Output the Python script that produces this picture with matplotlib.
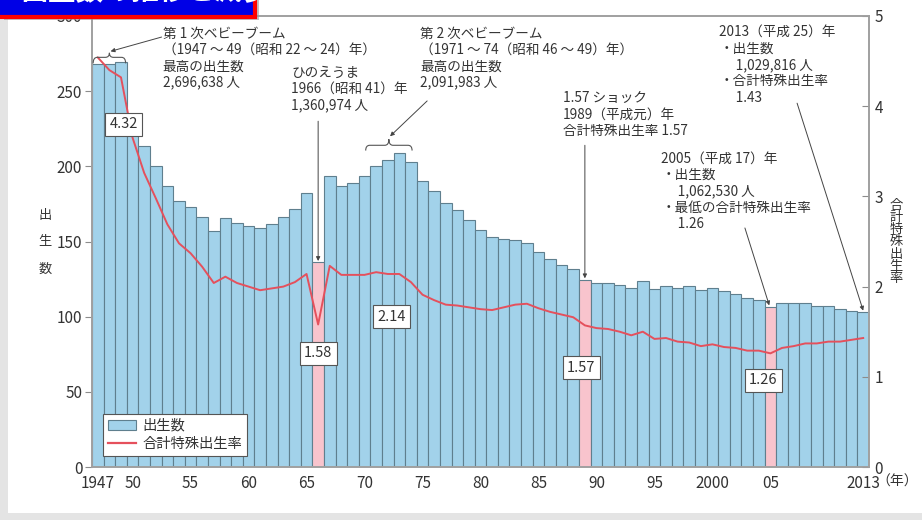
import matplotlib
matplotlib.use("Agg")
import matplotlib.pyplot as plt
from matplotlib.patches import Rectangle, PathPatch
from matplotlib.path import Path

plt.rcParams['font.family'] = ['Noto Sans CJK JP', 'DejaVu Sans']

# 出生数（万人）と合計特殊出生率, 1947-2013
years = list(range(1947, 2014))
births = [267.9, 268.2, 269.7, 233.8, 213.8, 200.5, 186.8, 177.0, 173.1, 166.5,
          156.7, 165.3, 162.6, 160.6, 158.9, 161.9, 166.0, 171.7, 182.4, 136.1,
          193.5, 187.2, 188.9, 193.4, 200.1, 203.9, 209.2, 203.0, 190.1, 183.3,
          175.5, 170.9, 164.3, 157.7, 152.9, 151.5, 150.9, 149.0, 143.2, 138.3,
          134.7, 131.4, 124.7, 122.2, 122.3, 120.9, 118.8, 123.8, 118.7, 120.7,
          119.2, 120.3, 117.8, 119.1, 117.1, 115.4, 112.4, 111.1, 106.3, 109.3,
          109.0, 109.1, 107.0, 107.1, 105.1, 103.7, 103.0]
tfr = [4.54, 4.40, 4.32, 3.65, 3.26, 2.98, 2.69, 2.48, 2.37, 2.22,
       2.04, 2.11, 2.04, 2.00, 1.96, 1.98, 2.00, 2.05, 2.14, 1.58,
       2.23, 2.13, 2.13, 2.13, 2.16, 2.14, 2.14, 2.05, 1.91, 1.85,
       1.80, 1.79, 1.77, 1.75, 1.74, 1.77, 1.80, 1.81, 1.76, 1.72,
       1.69, 1.66, 1.57, 1.54, 1.53, 1.50, 1.46, 1.50, 1.42, 1.43,
       1.39, 1.38, 1.34, 1.36, 1.33, 1.32, 1.29, 1.29, 1.26, 1.32,
       1.34, 1.37, 1.37, 1.39, 1.39, 1.41, 1.43]
highlight_years = [1966, 1989, 2005]

xtick_pos = [1947, 1950, 1955, 1960, 1965, 1970, 1975, 1980, 1985, 1990, 1995, 2000, 2005, 2013]
xtick_lab = ['1947', '50', '55', '60', '65', '70', '75', '80', '85', '90', '95', '2000', '05', '2013']

BLUE = '#a2d2ea'
PINK = '#f8c4cd'
EDGE = '#5f7f8e'
RED = '#e5505c'
TXT = '#333333'
GRAY = '#8c8c8c'

fig = plt.figure(figsize=(9.22, 5.2), dpi=100, facecolor='#e4e4e4')
fig.add_artist(Rectangle((8 / 922, 7 / 520), 1, 1, transform=fig.transFigure,
                         facecolor='white', edgecolor='none', zorder=-10))

ax = fig.add_axes([92 / 922, (520 - 467) / 520, 777 / 922, 451 / 520])
ax.set_facecolor('none')
colors = [PINK if y in highlight_years else BLUE for y in years]
ax.bar(years, births, width=1.0, color=colors, edgecolor=EDGE, linewidth=0.8, zorder=2)
ax.set_xlim(1946.5, 2013.5)
ax.set_ylim(0, 300)
ax.set_yticks(range(0, 301, 50))
ax.set_xticks(xtick_pos)
ax.set_xticklabels(xtick_lab)
ax.tick_params(axis='x', length=0, pad=6, labelsize=11, colors=TXT)
ax.tick_params(axis='y', length=5, width=0.8, color=GRAY, pad=2, labelsize=11, labelcolor=TXT)
for s in ax.spines.values():
    s.set_color('#a0a0a0')
    s.set_linewidth(1.2)

ax2 = ax.twinx()
ax2.plot(years, tfr, color=RED, linewidth=1.4, zorder=3)
ax2.set_ylim(0, 5)
ax2.set_yticks(range(0, 6))
ax2.tick_params(axis='y', direction='in', length=5, width=0.8, color=GRAY, pad=4,
                labelsize=11, labelcolor=TXT)
for s in ax2.spines.values():
    s.set_color('#a0a0a0')
    s.set_linewidth(1.2)

ax.text(1.009, -0.033, '（年）', transform=ax.transAxes, ha='left', va='center',
        fontsize=10, color=TXT)

# 縦書きの軸ラベル
for i, ch in enumerate('出生数'):
    fig.text(45 / 922, 1 - (215 + 27 * i) / 520, ch, ha='center', va='center',
             fontsize=9.5, color=TXT)
fig.text(896 / 922, 1 - 242 / 520, '\n'.join('合計特殊出生率'), ha='center', va='center',
         fontsize=9.5, color=TXT, linespacing=0.93)

# 値ラベル
box = dict(boxstyle='square,pad=0.3', facecolor='white', edgecolor='#555555', linewidth=0.8)
value_labels = [('4.32', 1949.25, 228), ('1.58', 1966.0, 75.5), ('2.14', 1972.3, 100),
                ('1.57', 1988.7, 66), ('1.26', 2004.4, 57.7)]
for s, x, y in value_labels:
    ax2.text(x, y, s, transform=ax.transData, ha='center', va='center', fontsize=10.5,
             color=TXT, bbox=box, zorder=6)


def brace(x0, x1, ybase, ytop, ytip):
    xm = (x0 + x1) / 2
    r = 0.35
    verts = [(x0, ybase), (x0, ytop), (x0 + r, ytop),
             (xm - r, ytop), (xm, ytop), (xm, ytip),
             (xm, ytop), (xm + r, ytop),
             (x1 - r, ytop), (x1, ytop), (x1, ybase)]
    codes = [Path.MOVETO, Path.CURVE3, Path.CURVE3,
             Path.LINETO, Path.CURVE3, Path.CURVE3,
             Path.CURVE3, Path.CURVE3,
             Path.LINETO, Path.CURVE3, Path.CURVE3]
    p = PathPatch(Path(verts, codes), facecolor='none', edgecolor='#555555',
                  linewidth=0.8, transform=ax.transData, zorder=6)
    ax2.add_patch(p)


brace(1946.6, 1949.4, 268.5, 272.5, 275.5)
brace(1970.1, 1974.1, 210.5, 214.0, 218.0)

arrow = dict(arrowstyle='-|>', color='#444444', lw=0.7, mutation_scale=6,
             shrinkA=0, shrinkB=0)


def pointer(x0, y0, x1, y1):
    ax2.annotate('', xy=(x1, y1), xytext=(x0, y0), xycoords=ax.transData,
                 textcoords=ax.transData, arrowprops=arrow, zorder=6)


pointer(1952.5, 286.0, 1948.1, 276.5)
pointer(1966.0, 230.0, 1966.0, 137.0)
pointer(1975.4, 243.5, 1972.2, 220.0)
pointer(1989.0, 214.0, 1989.0, 125.5)
pointer(2002.8, 159.0, 2004.9, 107.5)
pointer(2007.3, 242.0, 2013.0, 104.0)

notes = [
    (1952.6, 293.0, '第 1 次ベビーブーム\n（1947 〜 49（昭和 22 〜 24）年）\n最高の出生数\n2,696,638 人'),
    (1963.7, 267.0, 'ひのえうま\n1966（昭和 41）年\n1,360,974 人'),
    (1974.8, 293.0, '第 2 次ベビーブーム\n（1971 〜 74（昭和 46 〜 49）年）\n最高の出生数\n2,091,983 人'),
    (1987.1, 250.0, '1.57 ショック\n1989（平成元）年\n合計特殊出生率 1.57'),
    (1995.6, 210.0, '2005（平成 17）年\n・出生数\n\u3000 1,062,530 人\n・最低の合計特殊出生率\n\u3000 1.26'),
    (2000.6, 294.0, '2013（平成 25）年\n・出生数\n\u3000 1,029,816 人\n・合計特殊出生率\n\u3000 1.43'),
]
for x, y, s in notes:
    ax2.text(x, y, s, transform=ax.transData, ha='left', va='top', fontsize=9.8,
             color=TXT, linespacing=1.22, zorder=6)

leg_handles = [Rectangle((0, 0), 1, 1, facecolor=BLUE, edgecolor=EDGE, linewidth=0.8),
               plt.Line2D([], [], color=RED, linewidth=1.6)]
leg = ax2.legend(leg_handles, ['出生数', '合計特殊出生率'], loc='lower left',
                 bbox_to_anchor=(0.014, 0.024), fontsize=10.3, frameon=True, fancybox=False,
                 edgecolor='#555555', framealpha=1, borderpad=0.35, handlelength=2.0,
                 handletextpad=0.4, labelspacing=0.3, borderaxespad=0)
leg.get_frame().set_linewidth(0.8)
for t in leg.get_texts():
    t.set_color(TXT)

# 左上の見出し帯
fig.add_artist(Rectangle((4 / 922, 1 - 20 / 520), 255 / 922, 21 / 520, transform=fig.transFigure,
                         facecolor='#9a9a9a', edgecolor='none', zorder=9, alpha=0.6))
fig.add_artist(Rectangle((-0.01, 1 - 17 / 520), 0.01 + 255 / 922, 20 / 520, transform=fig.transFigure,
                         facecolor='#0000e6', edgecolor='#ff0000', linewidth=3, zorder=10))
fig.text(20 / 922, 1 - 6 / 520, '出生数の推移と減少', ha='left', va='bottom',
         fontsize=20, color='white', fontweight='bold', zorder=11)

fig.savefig('out.png', dpi=100, facecolor=fig.get_facecolor())
